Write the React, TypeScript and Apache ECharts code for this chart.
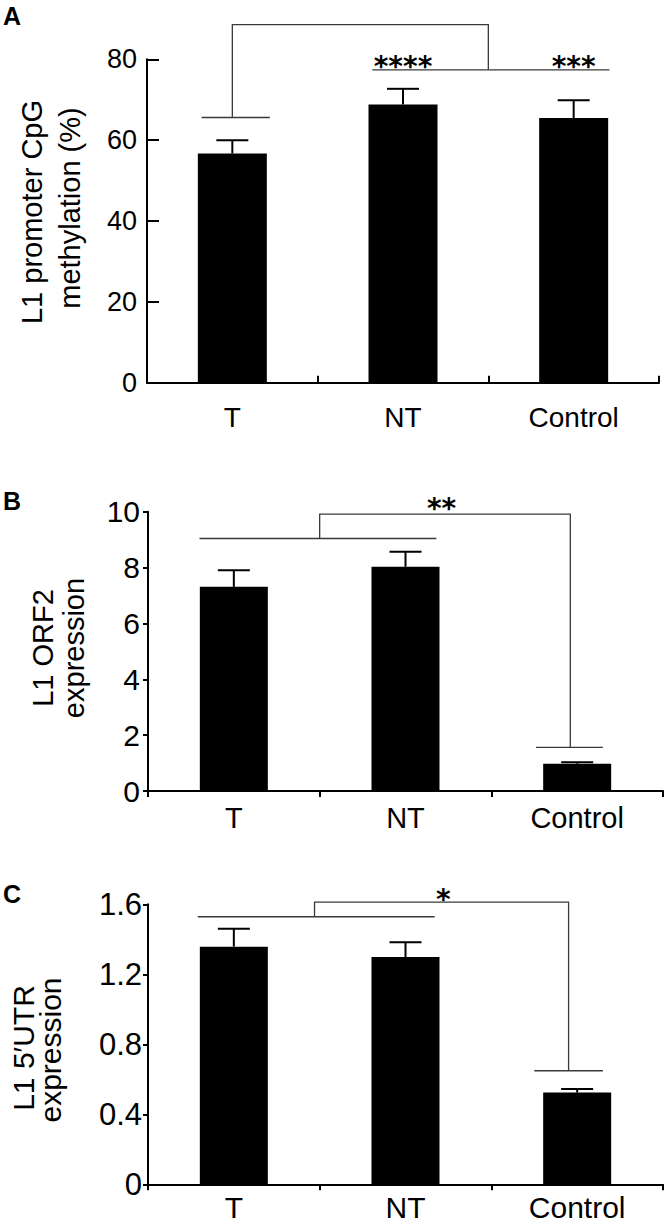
import React, { useEffect, useRef } from "react";
import * as echarts from "echarts";

// ---- data ----
const categories = ["T", "NT", "Control"];

const methylation = [56.7, 68.8, 65.5];
const methylationErr = [3.3, 3.9, 4.4];

const orf2 = [7.31, 8.03, 0.98];
const orf2Err = [0.59, 0.54, 0.05];

const utr = [1.358, 1.299, 0.524];
const utrErr = [0.103, 0.084, 0.021];

// significance brackets: [category position, value] points
const bracketsA = [
  [[-0.18, 65.6], [0.22, 65.6]],
  [[0, 65.6], [0, 88.6], [1.5, 88.6], [1.5, 77.4]],
  [[0.82, 77.4], [2.21, 77.4]],
];
const starTextA = ["****", "***"];
const starPosA = [[1.0, 78.2], [2.0, 78.2]];

const bracketsB = [
  [[-0.2, 9.04], [1.18, 9.04]],
  [[0.5, 9.04], [0.5, 9.91], [1.96, 9.91], [1.96, 1.56]],
  [[1.76, 1.56], [2.15, 1.56]],
];
const starTextB = ["**"];
const starPosB = [[1.21, 10.1]];

const bracketsC = [
  [[-0.21, 1.529], [1.17, 1.529]],
  [[0.47, 1.529], [0.47, 1.613], [1.95, 1.613], [1.95, 0.649]],
  [[1.75, 0.649], [2.15, 0.649]],
];
const starTextC = ["*"];
const starPosC = [[1.22, 1.625]];

const FONT = '"Liberation Sans", Arial, Helvetica, sans-serif';

function errorSeries(idx: number, vals: number[], errs: number[]) {
  return {
    type: "custom",
    xAxisIndex: idx,
    yAxisIndex: idx,
    clip: false,
    z: 5,
    data: vals.map((v, i) => [i, v, errs[i]]),
    encode: { x: 0, y: 1 },
    renderItem: (params: any, api: any) => {
      const x = api.value(0);
      const v = api.value(1);
      const e = api.value(2);
      const p1 = api.coord([x, v]);
      const p2 = api.coord([x, v + e]);
      const hw = 16;
      return {
        type: "group",
        children: [
          {
            type: "line",
            shape: { x1: p1[0], y1: p1[1], x2: p2[0], y2: p2[1] },
            style: { stroke: "#000", lineWidth: 2 },
          },
          {
            type: "line",
            shape: { x1: p2[0] - hw, y1: p2[1], x2: p2[0] + hw, y2: p2[1] },
            style: { stroke: "#000", lineWidth: 2 },
          },
        ],
      };
    },
  };
}

function bracketSeries(
  idx: number,
  brackets: number[][][],
  starText: string[],
  starPos: number[][]
) {
  return {
    type: "custom",
    xAxisIndex: idx,
    yAxisIndex: idx,
    clip: false,
    z: 6,
    data: [[0, 0]],
    encode: { x: 0, y: 1 },
    renderItem: (params: any, api: any) => {
      const band = api.size([1, 0])[0];
      const toPx = (pos: number, v: number) => {
        const p = api.coord([0, v]);
        return [p[0] + pos * band, p[1]];
      };
      const children: any[] = [];
      brackets.forEach((pts) => {
        children.push({
          type: "polyline",
          shape: { points: pts.map((q) => toPx(q[0], q[1])) },
          style: { stroke: "#3a3a3a", lineWidth: 1.3, fill: null },
        });
      });
      starText.forEach((t, i) => {
        const p = toPx(starPos[i][0], starPos[i][1]);
        children.push({
          type: "text",
          x: p[0],
          y: p[1],
          style: {
            text: t,
            font: 'bold 28px "DejaVu Sans", sans-serif',
            fill: "#000",
            align: "center",
            verticalAlign: "middle",
            textAlign: "center",
            textVerticalAlign: "middle",
          },
        });
      });
      return { type: "group", children };
    },
  };
}

function makeXAxis(idx: number, inside: boolean, tickLen: number, margin: number, fontSize: number) {
  return {
    type: "category",
    gridIndex: idx,
    data: categories,
    boundaryGap: true,
    axisLine: { show: true, lineStyle: { color: "#000", width: 2 } },
    axisTick: { show: true, inside, length: tickLen, alignWithLabel: false, lineStyle: { color: "#000", width: 2 } },
    axisLabel: { color: "#000", fontSize, fontFamily: FONT, margin },
    splitLine: { show: false },
  };
}

function makeYAxis(
  idx: number,
  max: number,
  interval: number,
  inside: boolean,
  tickLen: number,
  margin: number,
  fontSize: number
) {
  return {
    type: "value",
    gridIndex: idx,
    min: 0,
    max,
    interval,
    axisLine: { show: true, lineStyle: { color: "#000", width: 2 } },
    axisTick: { show: true, inside, length: tickLen, lineStyle: { color: "#000", width: 2 } },
    axisLabel: { color: "#000", fontSize, fontFamily: FONT, margin },
    splitLine: { show: false },
  };
}

function rotText(text: string, x: number, y: number, size: number) {
  return {
    type: "text",
    x,
    y,
    rotation: Math.PI / 2,
    style: {
      text,
      font: `${size}px ${FONT}`,
      fill: "#000",
      align: "center",
      verticalAlign: "middle",
      textAlign: "center",
      textVerticalAlign: "middle",
    },
  };
}

function panelLabel(text: string, x: number, y: number) {
  return {
    type: "text",
    x,
    y,
    style: {
      text,
      font: `bold 25px ${FONT}`,
      fill: "#000",
      align: "left",
      verticalAlign: "top",
      textAlign: "left",
      textVerticalAlign: "top",
    },
  };
}

export default function App() {
  const ref = useRef<HTMLDivElement>(null);

  useEffect(() => {
    if (!ref.current) return;
    const chart = echarts.init(ref.current, undefined, { renderer: "svg" });
    const option: any = {
      animation: false,
      backgroundColor: "#fff",
      grid: [
        { left: 147, top: 59.3, width: 512, height: 323.4 },
        { left: 148, top: 511.7, width: 515, height: 279.3 },
        { left: 148, top: 904.3, width: 515, height: 280 },
      ],
      xAxis: [
        makeXAxis(0, true, 7, 21, 28),
        makeXAxis(1, false, 6, 12, 29),
        makeXAxis(2, false, 6, 8, 30),
      ],
      yAxis: [
        makeYAxis(0, 80, 20, true, 12, 10, 27),
        makeYAxis(1, 10, 2, false, 5, 8, 30),
        makeYAxis(2, 1.6, 0.4, false, 5, 6, 31),
      ],
      series: [
        { type: "bar", xAxisIndex: 0, yAxisIndex: 0, data: methylation, barWidth: 69, itemStyle: { color: "#000" } },
        { type: "bar", xAxisIndex: 1, yAxisIndex: 1, data: orf2, barWidth: 68, itemStyle: { color: "#000" } },
        { type: "bar", xAxisIndex: 2, yAxisIndex: 2, data: utr, barWidth: 68, itemStyle: { color: "#000" } },
        errorSeries(0, methylation, methylationErr),
        errorSeries(1, orf2, orf2Err),
        errorSeries(2, utr, utrErr),
        bracketSeries(0, bracketsA, starTextA, starPosA),
        bracketSeries(1, bracketsB, starTextB, starPosB),
        bracketSeries(2, bracketsC, starTextC, starPosC),
      ],
      graphic: [
        panelLabel("A", 3, 3),
        panelLabel("B", 3, 488),
        panelLabel("C", 3, 881),
        rotText("L1 promoter CpG", 32, 212, 29),
        rotText("methylation (%)", 70, 208, 29),
        rotText("L1 ORF2", 42.5, 648, 29),
        rotText("expression", 73.5, 648, 29),
        rotText("L1 5\u2032UTR", 23, 1048, 30),
        rotText("expression", 50.5, 1050, 30),
      ],
    };
    chart.setOption(option);
    return () => chart.dispose();
  }, []);

  return (
    <div
      ref={ref}
      style={{ position: "absolute", left: 0, top: 0, width: 664, height: 1227, background: "#fff" }}
    />
  );
}
